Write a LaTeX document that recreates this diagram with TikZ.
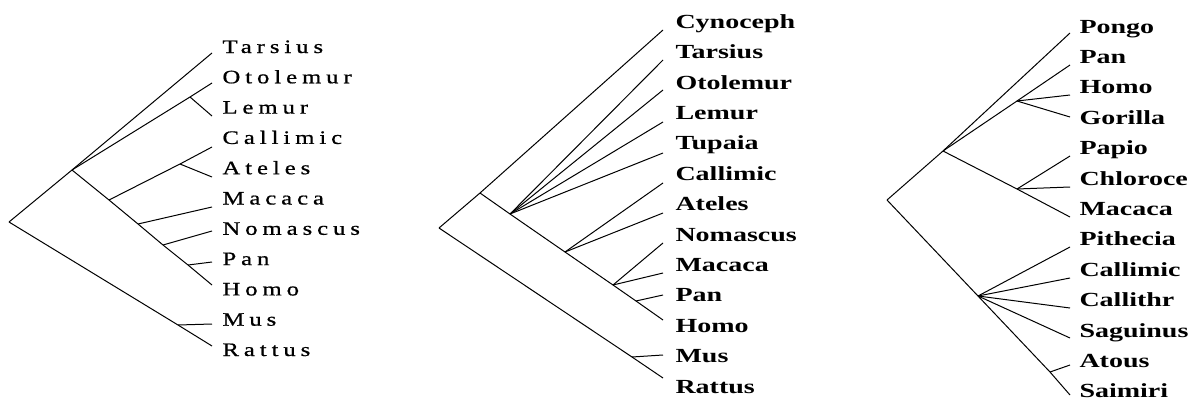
\documentclass[tikz,border=0pt]{standalone}
\usepackage{fontspec}
\setmainfont{Liberation Serif}
\newfontfamily\spacedfont[FakeStretch=1.3,LetterSpace=26,FakeBold=0.8]{Liberation Serif}
\newfontfamily\widefont[FakeStretch=1.4]{Liberation Serif}
\usetikzlibrary{calc}

\begin{document}
\begin{tikzpicture}[x=1pt,y=-1pt,line width=1pt,
    lab/.style={anchor=base west,inner sep=0pt,font=\spacedfont\fontsize{19}{22}\selectfont},
    labb/.style={anchor=base west,inner sep=0pt,font=\widefont\bfseries\fontsize{20}{24}\selectfont}]
        \useasboundingbox (0,0) rectangle (1197,399);
        %primo albero: foglie ed etichette
        \foreach \tip/\name [count=\i] in {53/Tarsius,83/Otolemur,116/Lemur,147/Callimic,177/Ateles,207/Macaca,231/Nomascus,262/Pan,285/Homo,324/Mus,346/Rattus}{
            \coordinate (t1-\i) at (212,\tip);
            \node[lab] (n1-\i) at (222,{53+(\i-1)*30.3}) {\name};
        }
        %primo albero: nodi interni
        \coordinate (r1) at (9,222);
        \coordinate (a1) at (72,170);
        \coordinate (b1) at (190,97);
        \coordinate (c1) at (109,200);
        \coordinate (d1) at (180,164);
        \coordinate (e1) at (138,224);
        \coordinate (f1) at (163,245);
        \coordinate (g1) at (188,265);
        \coordinate (h1) at (178,325);
        %primo albero: rami
        \draw (r1) -- (a1) -- (t1-1);
        \draw (a1) -- (b1) -- (t1-2);
        \draw (b1) -- (t1-3);
        \draw (a1) -- (c1) -- (e1) -- (f1) -- (g1) -- (t1-9);
        \draw (c1) -- (d1) -- (t1-4);
        \draw (d1) -- (t1-5);
        \draw (e1) -- (t1-6);
        \draw (f1) -- (t1-7);
        \draw (g1) -- (t1-8);
        \draw (r1) -- (h1) -- (t1-11);
        \draw (h1) -- (t1-10);

        %secondo albero: foglie ed etichette
        \foreach \tip/\name [count=\i] in {30/Cynoceph,60/Tarsius,90/Otolemur,122/Lemur,153/Tupaia,183/Callimic,213/Ateles,243/Nomascus,273/Macaca,295/Pan,320/Homo,355/Mus,378/Rattus}{
            \coordinate (t2-\i) at (663,\tip);
            \node[labb] (n2-\i) at (675,{28.3+(\i-1)*30.4}) {\name};
        }
        %secondo albero: nodi interni
        \coordinate (r2) at (439,228);
        \coordinate (a2) at (480,193);
        \coordinate (b2) at (510,214);
        \coordinate (c2) at (565,252);
        \coordinate (d2) at (613,285);
        \coordinate (e2) at (636,301);
        \coordinate (f2) at (632,357);
        %secondo albero: rami
        \draw (r2) -- (a2) -- (t2-1);
        \draw (a2) -- (b2) -- (c2) -- (d2) -- (e2) -- (t2-11);
        \foreach \j in {2,...,5}
            \draw (b2) -- (t2-\j);
        \draw (c2) -- (t2-6);
        \draw (c2) -- (t2-7);
        \draw (d2) -- (t2-8);
        \draw (d2) -- (t2-9);
        \draw (e2) -- (t2-10);
        \draw (r2) -- (f2) -- (t2-13);
        \draw (f2) -- (t2-12);

        %terzo albero: foglie ed etichette
        \foreach \tip/\name [count=\i] in {33/Pongo,65/Pan,95/Homo,117/Gorilla,156/Papio,187/Chloroce,217/Macaca,247/Pithecia,278/Callimic,308/Callithr,338/Saguinus,365/Atous,395/Saimiri}{
            \coordinate (t3-\i) at (1070,\tip);
            \node[labb] (n3-\i) at (1079,{33+(\i-1)*30.4}) {\name};
        }
        %terzo albero: nodi interni
        \coordinate (r3) at (887,200);
        \coordinate (a3) at (943,151);
        \coordinate (b3) at (1017,101);
        \coordinate (c3) at (1017,189);
        \coordinate (d3) at (978,296);
        \coordinate (e3) at (1050,372);
        %terzo albero: rami
        \draw (r3) -- (a3) -- (t3-1);
        \draw (a3) -- (b3) -- (t3-2);
        \draw (b3) -- (t3-3);
        \draw (b3) -- (t3-4);
        \draw (a3) -- (c3) -- (t3-7);
        \draw (c3) -- (t3-5);
        \draw (c3) -- (t3-6);
        \draw (r3) -- (d3) -- (e3) -- (t3-13);
        \foreach \j in {8,...,11}
            \draw (d3) -- (t3-\j);
        \draw (e3) -- (t3-12);
    \end{tikzpicture}
\end{document}
